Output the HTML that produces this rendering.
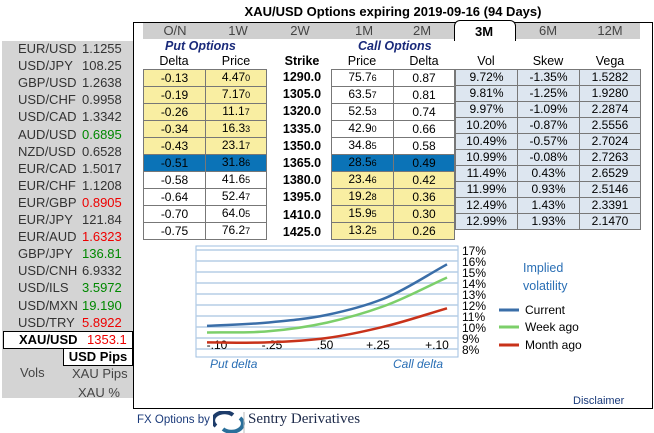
<!DOCTYPE html>
<html><head><meta charset="utf-8">
<style>
body{margin:0;width:654px;height:432px;background:#fff;font-family:"Liberation Sans",Arial,sans-serif;position:relative;overflow:hidden;color:#000}
.a{position:absolute}
.lp{position:absolute;left:2px;top:41px;width:131px;height:357px;background:#d4d4d4}
.fx{position:absolute;font-size:13px;color:#333;height:17px;line-height:17px}
.box{position:absolute;left:133px;top:22px;width:518px;height:385px;border:1.5px solid #000}
.tabs{position:absolute;left:143px;top:23px;width:497px;height:16px;background:#cfcfcf}
.tab{position:absolute;top:23px;height:16px;line-height:16px;font-size:13px;color:#444;text-align:center;width:60px}
table{border-collapse:collapse;position:absolute;font-size:12px}
td{border:1px solid #777;height:15px;padding:0;text-align:center;line-height:15px}
.y{background:#f9eea2}.b{background:#0b73b7}.w{background:#fff}.l{background:#dde6f0}
.hd{position:absolute;font-size:12.5px;top:54px;text-align:center}
.st{position:absolute;left:272px;width:60px;font-weight:bold;font-size:12.5px;text-align:center}
small{font-size:9px}
</style></head><body>
<div class="a" style="left:133px;top:4px;width:520px;text-align:center;font-weight:bold;font-size:13px">XAU/USD Options expiring 2019-09-16 (94 Days)</div>

<div class="lp"></div>
<div id="fxl"></div>
<div class="a" style="left:3px;top:331px;width:128px;height:16px;background:#fff;border:1px solid #000;font-size:13px;line-height:16px"><b style="position:absolute;left:15px">XAU/USD</b><span style="position:absolute;left:83px;color:#e00">1353.1</span></div>
<div class="a" style="left:63px;top:348px;width:68px;height:16px;background:#fff;border:1px solid #000;font-weight:bold;font-size:13px;text-align:center;line-height:16px">USD Pips</div>
<div class="a" style="left:20px;top:365px;font-size:13px;color:#444">Vols</div>
<div class="a" style="left:72px;top:366px;font-size:13px;color:#444">XAU Pips</div>
<div class="a" style="left:78px;top:385px;font-size:13px;color:#444">XAU %</div>

<div class="box"></div>
<div class="tabs"></div>
<div class="a" style="left:454px;top:20px;width:60px;height:20px;background:#fff;border:1px solid #000;border-bottom:none;border-radius:6px 6px 0 0"></div>
<div class="tab" style="left:145px">O/N</div>
<div class="tab" style="left:208px">1W</div>
<div class="tab" style="left:270px">2W</div>
<div class="tab" style="left:334px">1M</div>
<div class="tab" style="left:392px">2M</div>
<div class="tab" style="left:454px;color:#000;font-weight:bold;top:24px">3M</div>
<div class="tab" style="left:518px">6M</div>
<div class="tab" style="left:580px">12M</div>

<div class="a" style="left:165px;top:39px;font-weight:bold;font-style:italic;font-size:12.5px;color:#1a2a7a">Put Options</div>
<div class="a" style="left:358px;top:39px;font-weight:bold;font-style:italic;font-size:12.5px;color:#1a2a7a">Call Options</div>
<div class="hd" style="left:143px;width:62px">Delta</div>
<div class="hd" style="left:205px;width:62px">Price</div>
<div class="hd" style="left:272px;width:60px;font-weight:bold">Strike</div>
<div class="hd" style="left:331px;width:62px">Price</div>
<div class="hd" style="left:393px;width:62px">Delta</div>
<div class="hd" style="left:455px;width:62px">Vol</div>
<div class="hd" style="left:517px;width:62px">Skew</div>
<div class="hd" style="left:579px;width:62px">Vega</div>

<table id="pt" style="left:143px;top:69px;width:124px"></table>
<div id="strikes"></div>
<table id="ct" style="left:331px;top:69px;width:124px"></table>
<table id="vt" style="left:455px;top:69px;width:186px"></table>

<svg class="a" style="left:0;top:0" width="654" height="432" id="ch"></svg>

<div class="a" style="left:210px;top:357px;font-size:12px;font-style:italic;color:#2a6fb5">Put delta</div>
<div class="a" style="left:393px;top:357px;font-size:12px;font-style:italic;color:#2a6fb5">Call delta</div>
<div class="a" style="left:573px;top:395px;font-size:11px;color:#1a3a7a">Disclaimer</div>
<div class="a" style="left:137px;top:414px;font-size:11.5px;color:#1a3a7a">FX Options by</div>
<svg class="a" style="left:213px;top:411px" width="34" height="22"><path d="M3 15 A11 8 0 0 1 20 4" stroke="#1d3c6a" stroke-width="4" fill="none"/><path d="M27 7 A11 8 0 0 1 10 18" stroke="#2a6f9a" stroke-width="4" fill="none"/><line x1="31" y1="1" x2="31" y2="22" stroke="#bbb"/></svg>
<div class="a" style="left:248px;top:411px;font-size:15px;font-family:'Liberation Serif',serif;color:#1d2a4a">Sentry Derivatives</div>

<script>
const fxPairs=["EUR/USD","USD/JPY","GBP/USD","USD/CHF","USD/CAD","AUD/USD","NZD/USD","EUR/CAD","EUR/CHF","EUR/GBP","EUR/JPY","EUR/AUD","GBP/JPY","USD/CNH","USD/ILS","USD/MXN","USD/TRY"];
const fxRates=["1.1255","108.25","1.2638","0.9958","1.3342","0.6895","0.6528","1.5017","1.1208","0.8905","121.84","1.6323","136.81","6.9332","3.5972","19.190","5.8922"];
const fxColors=["#333","#333","#333","#333","#333","#080","#333","#333","#333","#e00","#333","#e00","#080","#333","#080","#080","#e00"];
const fxl=document.getElementById('fxl');
fxPairs.forEach((p,i)=>{
 const d=document.createElement('div');d.className='fx';d.style.left='18px';d.style.top=(40+i*17.1)+'px';d.textContent=p;
 
 
 fxl.appendChild(d);
 const r=document.createElement('div');r.className='fx';r.style.left='82px';r.style.top=(40+i*17.1)+'px';r.style.color=fxColors[i];r.textContent=fxRates[i];
 
 
 fxl.appendChild(r);
});
const putDelta=["-0.13","-0.19","-0.26","-0.34","-0.43","-0.51","-0.58","-0.64","-0.70","-0.75"];
const putPrice=["4.47|0","7.17|0","11.1|7","16.3|3","23.1|7","31.8|6","41.6|5","52.4|7","64.0|5","76.2|7"];
const strikes=["1290.0","1305.0","1320.0","1335.0","1350.0","1365.0","1380.0","1395.0","1410.0","1425.0"];
const callPrice=["75.7|6","63.5|7","52.5|3","42.9|0","34.8|5","28.5|6","23.4|6","19.2|8","15.9|5","13.2|5"];
const callDelta=["0.87","0.81","0.74","0.66","0.58","0.49","0.42","0.36","0.30","0.26"];
const vols=["9.72%","9.81%","9.97%","10.20%","10.49%","10.99%","11.49%","11.99%","12.49%","12.99%"];
const skews=["-1.35%","-1.25%","-1.09%","-0.87%","-0.57%","-0.08%","0.43%","0.93%","1.43%","1.93%"];
const vegas=["1.5282","1.9280","2.2874","2.5556","2.7024","2.7263","2.6529","2.5146","2.3391","2.1470"];
const fp=s=>{const [a,b]=s.split('|');return a+'<small>'+b+'</small>';};
const pt=document.getElementById('pt'),ct=document.getElementById('ct'),vt=document.getElementById('vt'),sd=document.getElementById('strikes');
for(let i=0;i<10;i++){
 const pc=i<5?'y':i==5?'b':'w', cc=i<5?'w':i==5?'b':'y';
 let tr=document.createElement('tr');tr.innerHTML=`<td class="${pc}" style="width:61px">${putDelta[i]}</td><td class="${pc}">${fp(putPrice[i])}</td>`;
 
 
 pt.appendChild(tr);
 tr=document.createElement('tr');tr.innerHTML=`<td class="${cc}" style="width:61px">${fp(callPrice[i])}</td><td class="${cc}">${callDelta[i]}</td>`;
 
 
 ct.appendChild(tr);
 tr=document.createElement('tr');tr.innerHTML=`<td class="l" style="width:61px">${vols[i]}</td><td class="l" style="width:61px">${skews[i]}</td><td class="l">${vegas[i]}</td>`;
 
 
 vt.appendChild(tr);
 const s=document.createElement('div');s.className='st';s.style.top=(70+i*17.2)+'px';s.textContent=strikes[i];
 
 
 sd.appendChild(s);
}
// chart data
const deltaLabels=["-.10","-.25",".50","+.25","+.10"];
const currentVol=[10.1,10.4,11.1,12.7,15.7];
const weekAgoVol=[9.5,9.6,10.4,12.0,14.5];
const monthAgoVol=[8.6,8.6,9.0,10.1,11.7];
const yTicks=[8,9,10,11,12,13,14,15,16,17];
const NS='http://www.w3.org/2000/svg',svg=document.getElementById('ch');
const X=i=>207+i*60, Y=v=>349-(v-8)*11;
function el(t,a,name){const e=document.createElementNS(NS,t);for(const k in a)e.setAttribute(k,a[k]);svg.appendChild(e);return e;}
el('rect',{x:196,y:246,width:262,height:111,fill:'#fff',stroke:'#9fbfe0'},'plot-area');
yTicks.forEach(v=>{
 el('line',{x1:196,x2:458,y1:Y(v),y2:Y(v),stroke:'#b5cde6','stroke-width':1.5},'gridline');
 const t=el('text',{x:462,y:Y(v)+5,'font-size':12,'font-family':'Liberation Sans, sans-serif'},'y-tick-label');t.textContent=v+'%';
});
deltaLabels.forEach((l,i)=>{const t=el('text',{x:X(i)+(i==0?10:i==4?-10:i==1?5:i==3?-9:-2),y:349,'font-size':12,'text-anchor':'middle','font-family':'Liberation Sans, sans-serif'},'x-tick-label');t.textContent=l;});
function curve(d){
 const n=d.length,g=i=>i<0?2*d[0]-d[1]:i>=n?2*d[n-1]-d[n-2]:d[i];
 let s=`M${X(0)},${Y(d[0])}`;
 for(let i=1;i<n;i++){const x0=X(i-1),x1=X(i);
  s+=` C${x0+20},${Y(g(i-1)+(g(i)-g(i-2))/6)} ${x1-20},${Y(g(i)-(g(i+1)-g(i-1))/6)} ${x1},${Y(g(i))}`;}
 return s;}
[[monthAgoVol,'#c8321a','month-ago-line'],[weekAgoVol,'#7ccf6a','week-ago-line'],[currentVol,'#3a6ea8','current-line']].forEach(([d,c,n])=>el('path',{d:curve(d),stroke:c,'stroke-width':2.5,fill:'none'},n));
const lt=(x,y,s,n,c,sz)=>{const t=el('text',{x,y,'font-size':sz||12,fill:c||'#000','font-family':'Liberation Sans, sans-serif'},n);t.textContent=s;};
lt(523,272,'Implied','legend-title','#2a6fb5',12.5);lt(523,290,'volatility','legend-title','#2a6fb5',12.5);
[['Current','#3a6ea8',310],['Week ago','#7ccf6a',327],['Month ago','#c8321a',345]].forEach(([s,c,y])=>{el('line',{x1:499,x2:519,y1:y,y2:y,stroke:c,'stroke-width':3},'legend-swatch');lt(525,y+4,s,'legend-entry');});
</script>
</body></html>
